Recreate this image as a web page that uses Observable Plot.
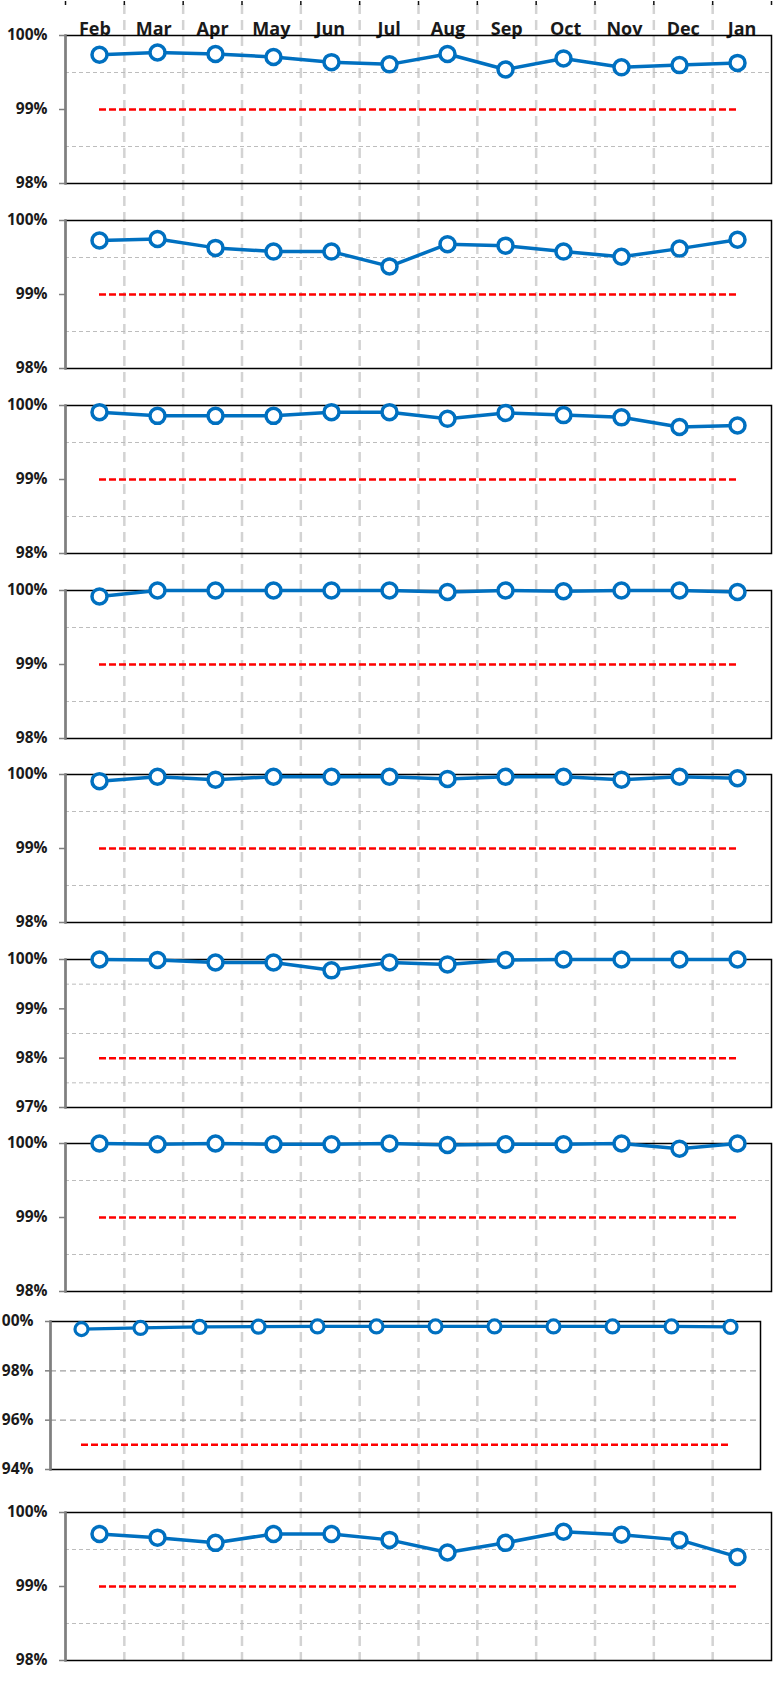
<!DOCTYPE html>
<html>
<head>
<meta charset="utf-8">
<script src="https://cdn.jsdelivr.net/npm/d3@7"></script>
<script src="https://cdn.jsdelivr.net/npm/@observablehq/plot@0.6"></script>
<style>
  html, body { margin: 0; padding: 0; background: #ffffff; }
  #root { position: relative; width: 778px; height: 1686px; overflow: hidden; background: #ffffff; }
  #root svg { position: absolute; left: 0; }
</style>
</head>
<body>
<div id="root"></div>
<script>
// ---------- data ----------
const months = ["Feb", "Mar", "Apr", "May", "Jun", "Jul", "Aug", "Sep", "Oct", "Nov", "Dec", "Jan"];

const series1 = [99.74, 99.77, 99.75, 99.71, 99.64, 99.61, 99.75, 99.54, 99.69, 99.57, 99.60, 99.63];
const series2 = [99.73, 99.75, 99.63, 99.58, 99.58, 99.38, 99.68, 99.66, 99.58, 99.51, 99.62, 99.74];
const series3 = [99.91, 99.86, 99.86, 99.86, 99.91, 99.91, 99.82, 99.90, 99.87, 99.84, 99.71, 99.73];
const series4 = [99.92, 100, 100, 100, 100, 100, 99.98, 100, 99.99, 100, 100, 99.98];
const series5 = [99.91, 99.97, 99.93, 99.97, 99.97, 99.97, 99.94, 99.97, 99.97, 99.93, 99.97, 99.95];
const series6 = [100, 99.99, 99.94, 99.94, 99.78, 99.94, 99.90, 99.99, 100, 100, 100, 100];
const series7 = [100, 99.99, 100, 99.99, 99.99, 100, 99.98, 99.99, 99.99, 100, 99.93, 100];
const series8 = [99.69, 99.74, 99.78, 99.79, 99.80, 99.80, 99.80, 99.80, 99.80, 99.80, 99.80, 99.78];
const series9 = [99.71, 99.66, 99.59, 99.71, 99.71, 99.63, 99.46, 99.59, 99.74, 99.70, 99.63, 99.40];
const allSeries = [series1, series2, series3, series4, series5, series6, series7, series8, series9];

const targets = [99, 99, 99, 99, 99, 98, 99, 95, 99];

const yDomains = [[98, 100], [98, 100], [98, 100], [98, 100], [98, 100], [97, 100], [98, 100], [94, 100], [98, 100]];
const yTickValues = [
  [98, 99, 100], [98, 99, 100], [98, 99, 100], [98, 99, 100], [98, 99, 100],
  [97, 98, 99, 100], [98, 99, 100], [94, 96, 98, 100], [98, 99, 100]
];
const yGridValues = [
  [98.5, 99.5], [98.5, 99.5], [98.5, 99.5], [98.5, 99.5], [98.5, 99.5],
  [97.5, 98.5, 99.5], [98.5, 99.5], [96, 98], [98.5, 99.5]
];

// ---------- layout (pixels) ----------
const W = 778, H = 1686;
const panelTops = [34.5, 220, 404.5, 589.5, 774, 959, 1142.5, 1321, 1512];
const panelHeight = 148;
const panelLeft = [65, 65, 65, 65, 65, 65, 65, 50, 65];
const panelRight = [771, 771, 771, 771, 771, 771, 771, 760, 771];
const pad = 12;

const fontFamily = "'Open Sans', 'Noto Sans', sans-serif";
const baseStyle = {
  fontFamily, fontSize: "15px", fontWeight: "700", background: "transparent", color: "#1a1a1a"
};

const root = document.getElementById("root");

// ---------- background: vertical month grid, top ticks, month labels ----------
const bg = Plot.plot({
  width: W, height: H,
  marginLeft: 65, marginRight: W - 771, marginTop: 4, marginBottom: H - 1660,
  x: {domain: [0, months.length], label: null},
  style: {...baseStyle, fontSize: "18px"},
  marks: [
    Plot.ruleX(d3.range(1, months.length), {stroke: "#d3d3d3", strokeWidth: 2.5, strokeDasharray: "10,6"}),
    Plot.axisX(d3.range(0, months.length + 1), {anchor: "top", tickSize: 4, tickFormat: () => "", stroke: "#111", strokeWidth: 1.5, label: null}),
    Plot.text(months, {x: (d, i) => i + 0.5, frameAnchor: "top", dy: 18, fill: "#1a1a1a", fontSize: 18, fontWeight: "bold", fontFamily})
  ]
});
bg.style.top = "0px";
root.appendChild(bg);

// ---------- panels ----------
allSeries.forEach((series, i) => {
  const data = months.map((m, j) => ({month: m, value: series[j]}));
  const small = i === 7;
  const p = Plot.plot({
    width: W,
    height: panelHeight + 2 * pad,
    marginTop: pad, marginBottom: pad,
    marginLeft: panelLeft[i], marginRight: W - panelRight[i],
    x: {type: "point", domain: months, padding: 0.5, axis: null},
    y: {domain: yDomains[i], axis: null},
    style: baseStyle,
    marks: [
      Plot.ruleY(yGridValues[i], small
        ? {stroke: "#a0a0a0", strokeWidth: 1.2, strokeDasharray: "6,4"}
        : {stroke: "#bdbdbd", strokeWidth: 1, strokeDasharray: "4,3"}),
      Plot.ruleY([targets[i]], {
        x1: () => months[0], x2: () => months[months.length - 1],
        stroke: "#ff0000", strokeWidth: 2.5, strokeDasharray: "7,3"
      }),
      Plot.frame({stroke: "#000", strokeWidth: 1.5}),
      Plot.frame({anchor: "left", stroke: "#7f7f7f", strokeWidth: 2.5}),
      Plot.axisY(yTickValues[i], {
        tickSize: small ? 5 : 6, tickPadding: 12,
        tickFormat: d => d + "%",
        stroke: "#7f7f7f", strokeWidth: 1.5, fill: "#1a1a1a",
        fontSize: 15.5, fontWeight: "bold", label: null
      }),
      Plot.line(data, {x: "month", y: "value", stroke: "#0070c0", strokeWidth: small ? 3.2 : 3.5}),
      Plot.dot(data, {x: "month", y: "value", r: small ? 6.5 : 7.5, fill: "#ffffff", stroke: "#0070c0", strokeWidth: small ? 3.2 : 3.5})
    ]
  });
  p.style.top = (panelTops[i] - pad) + "px";
  root.appendChild(p);
});
</script>
</body>
</html>
